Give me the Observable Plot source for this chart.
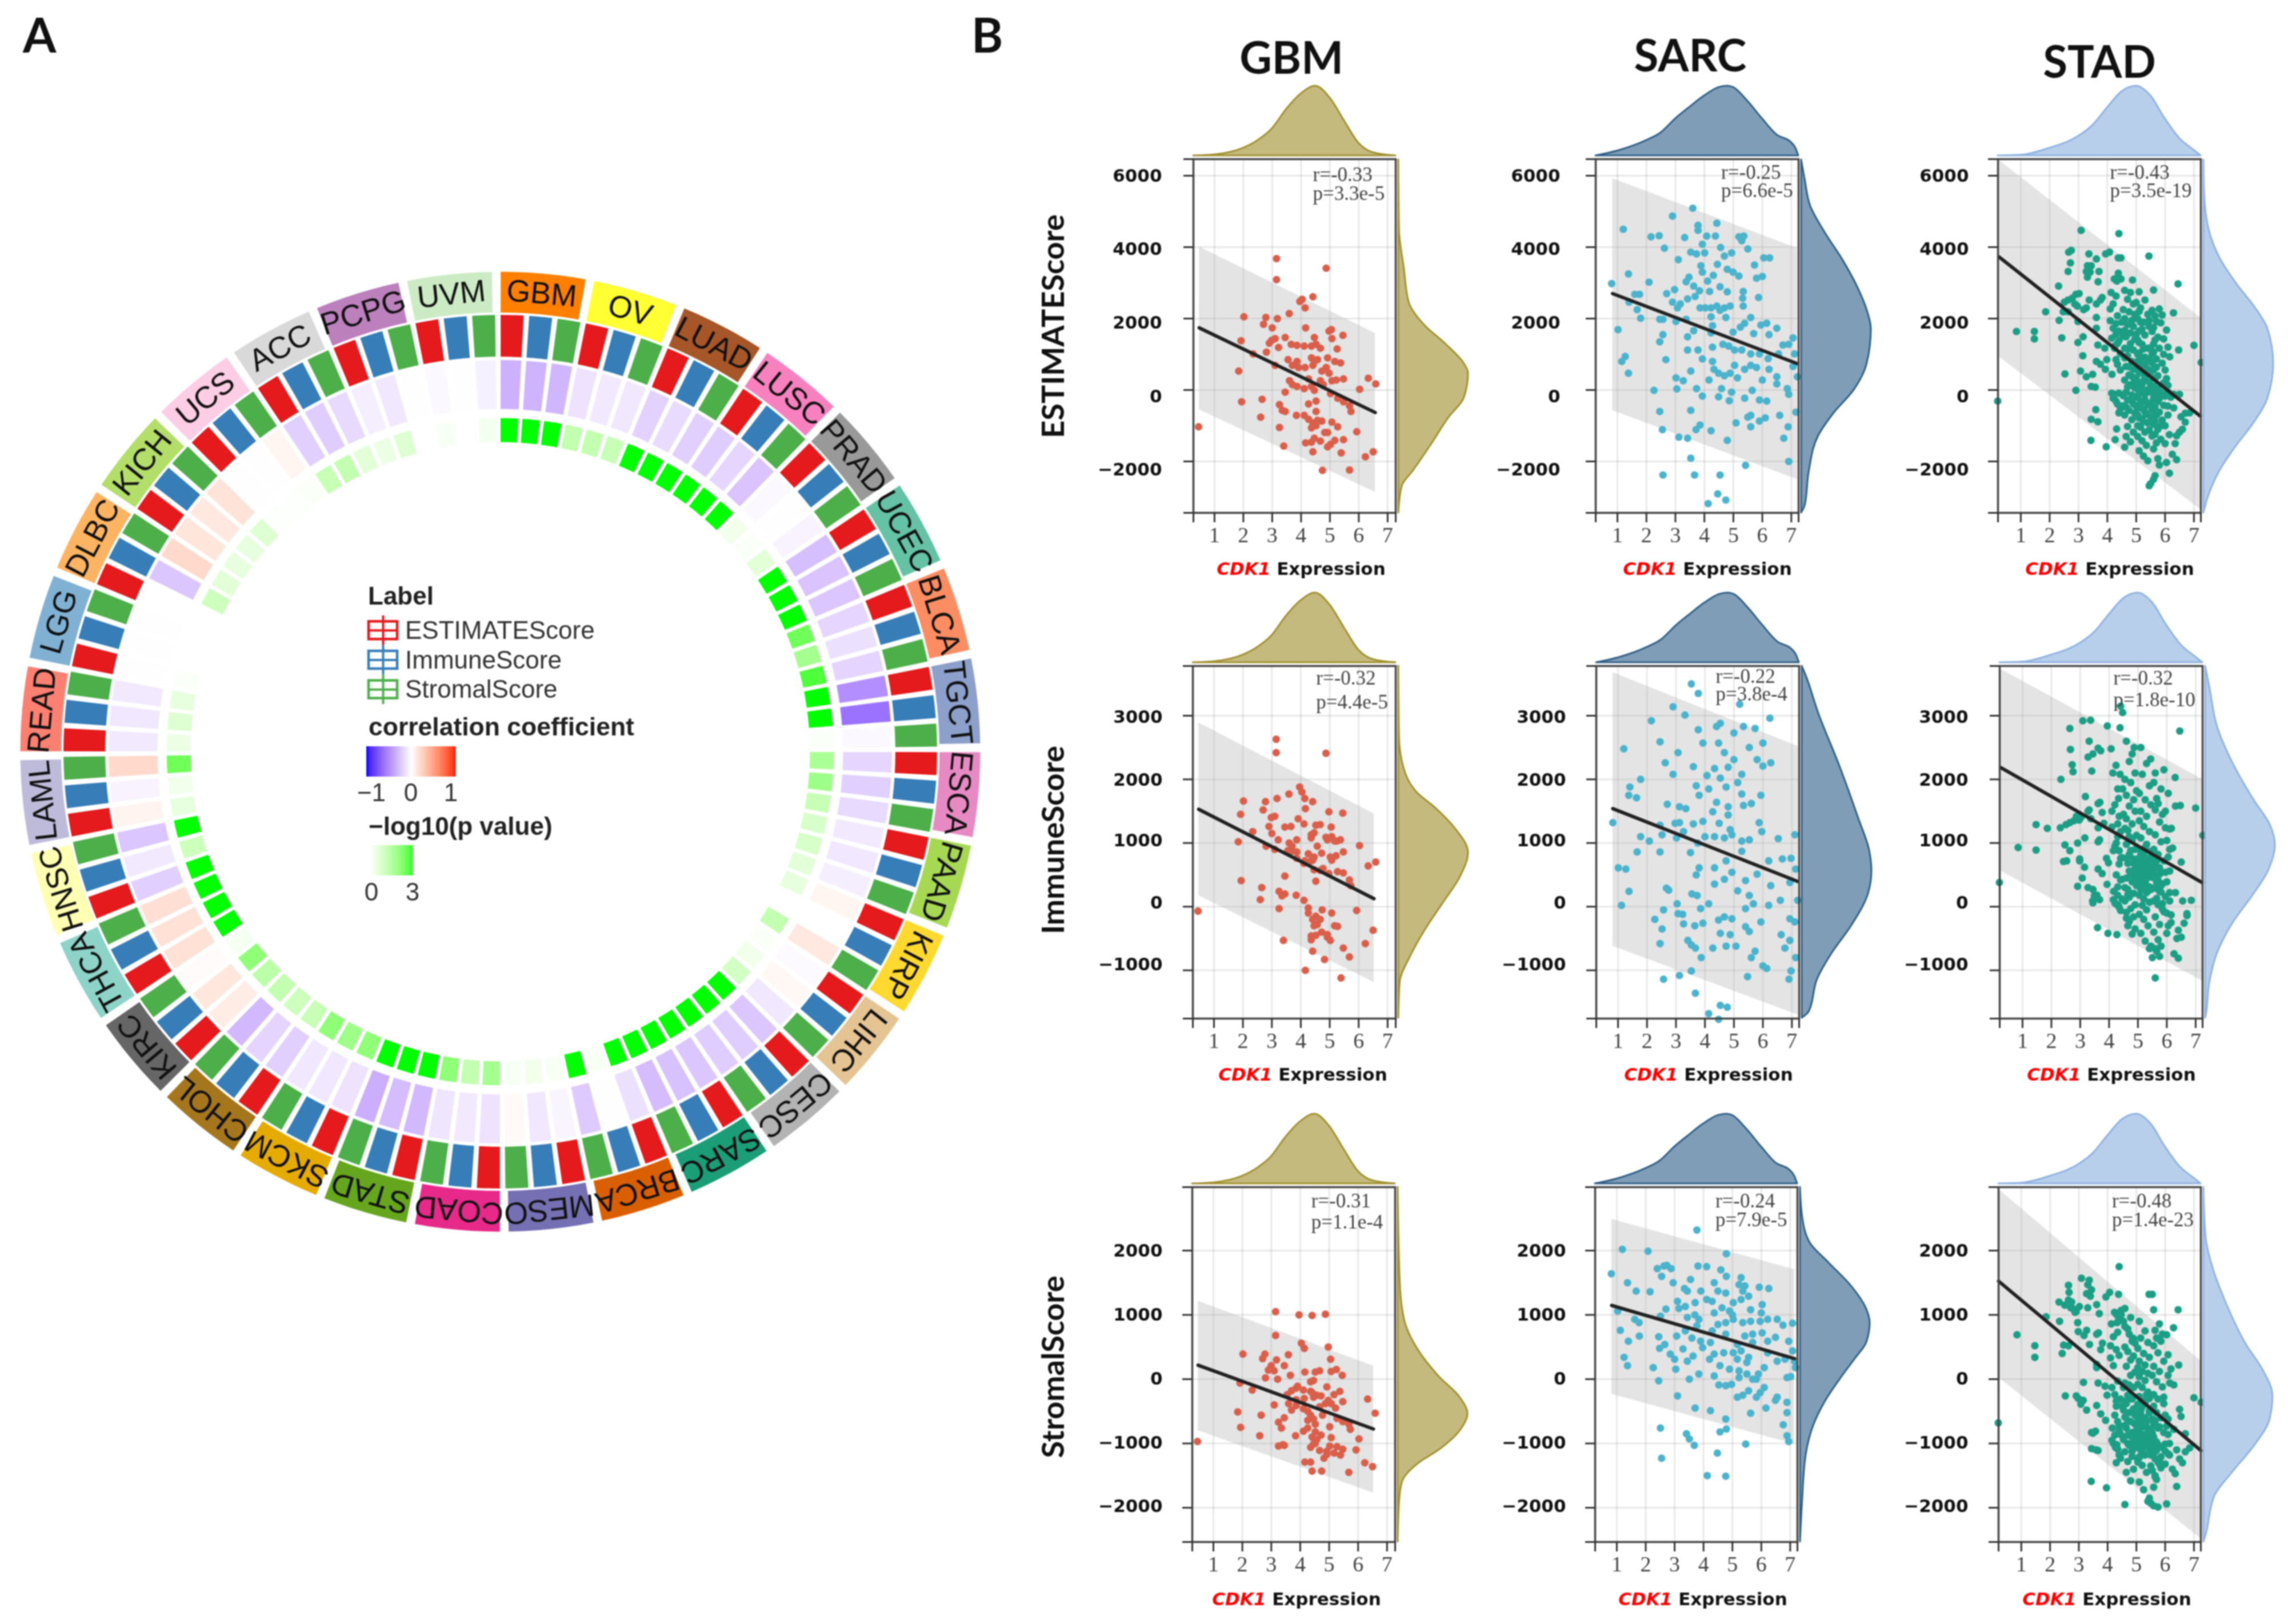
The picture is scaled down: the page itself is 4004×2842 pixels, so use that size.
<!DOCTYPE html>
<html><head><meta charset="utf-8">
<script src="https://cdn.jsdelivr.net/npm/d3@7"></script>
<script src="https://cdn.jsdelivr.net/npm/@observablehq/plot@0.6"></script>
<style>
html,body{margin:0;padding:0;background:#fff}
#page{position:relative;width:4004px;height:2842px;overflow:hidden;background:#fff;filter:blur(1px)}
#page svg{position:absolute;overflow:visible}
.t{position:absolute;white-space:nowrap;line-height:1.2}
</style></head><body><div id="page"></div>
<script>
/* ---------- panel A: circular heatmap ---------- */
const cancers=["GBM","OV","LUAD","LUSC","PRAD","UCEC","BLCA","TGCT","ESCA","PAAD","KIRP","LIHC","CESC","SARC","BRCA","MESO","COAD","STAD","SKCM","CHOL","KIRC","THCA","HNSC","LAML","READ","LGG","DLBC","KICH","UCS","ACC","PCPG","UVM"];
const cancerColors=["#FF7F00","#FFFF33","#A65628","#F781BF","#999999","#66C2A5","#FC8D62","#8DA0CB","#E78AC3","#A6D854","#FFD92F","#E5C494","#B3B3B3","#1B9E77","#D95F02","#7570B3","#E7298A","#66A61E","#E6AB02","#A6761D","#666666","#8DD3C7","#FFFFB3","#BEBADA","#FB8072","#80B1D3","#FDB462","#B3DE69","#FCCDE5","#D9D9D9","#BC80BD","#CCEBC5"];
const scoreLabels=["ESTIMATEScore","ImmuneScore","StromalScore"];
const scoreColors=["#E41A1C","#377EB8","#4DAF4A"];
const corrEstimate=[-.33,-.12,-.19,-.21,-.03,-.27,-.17,-.48,-.17,-.09,.05,-.02,-.24,-.24,-.13,-.04,-.12,-.3,-.12,-.2,.1,.16,-.2,.06,-.09,-.01,0,.14,-.01,-.2,-.07,-.03];
const corrImmune=[-.32,-.09,-.15,-.17,-.01,-.25,-.13,-.6,-.2,-.1,0,.04,-.21,-.26,-.01,-.1,-.09,-.28,-.1,-.18,.13,.16,-.09,-.05,-.1,-.01,-.24,.12,-.01,-.21,-.1,-.005];
const corrStromal=[-.31,-.1,-.2,-.25,-.05,-.24,-.18,-.03,-.16,-.07,.12,-.1,-.21,-.28,-.22,.03,-.11,-.34,-.1,-.3,.02,.17,-.24,.2,-.09,-.01,.2,.15,.05,-.16,-.005,-.06];
const logpEstimate=[3,1.2,3,3,.3,3,2.4,3,1.6,.8,.5,.1,3,3,3,.15,1.7,3,2,1.1,1.3,3,3,.5,.4,.1,.02,.5,.05,1.1,.4,.15];
const logpImmune=[3,1.2,3,3,.1,3,1.7,3,1.8,.8,.02,.3,3,3,.15,.3,1.2,3,1.8,1,2,3,1,.3,.7,.02,1,.5,.05,1.2,.7,.02];
const logpStromal=[3,1.1,3,3,.6,3,2.7,.1,1.1,.6,1.2,.9,3,3,3,.15,2,3,2,1.2,.2,3,3,2.4,.5,.02,.6,.7,.1,.6,.02,.25];

/* ---------- panel B: columns, rows, fits ---------- */
const columnNames=["GBM","SARC","STAD"];
const rowNames=["ESTIMATEScore","ImmuneScore","StromalScore"];
const stats=[["r=-0.33","p=3.3e-5"],["r=-0.25","p=6.6e-5"],["r=-0.43","p=3.5e-19"],["r=-0.32","p=4.4e-5"],["r=-0.22","p=3.8e-4"],["r=-0.32","p=1.8e-10"],["r=-0.31","p=1.1e-4"],["r=-0.24","p=7.9e-5"],["r=-0.48","p=1.4e-23"]];
/* x0,x1, upper0,upper1, fit0,fit1, lower0,lower1 */
const fitBands=[[.47,6.57,4010,1590,1740,-630,-550,-2860],[.83,7.2,5925,3970,2700,740,-570,-2505],[.24,7.22,6440,2030,3730,-730,935,-3340],
[.47,6.53,2890,1460,1530,125,175,-1190],[.82,7.21,3680,2520,1540,395,-620,-1700],[.25,7.22,3730,2005,2185,380,560,-1165],
[.47,6.53,1215,205,217,-775,-800,-1770],[.82,7.15,2490,1705,1147,320,-233,-1010],[.21,7.24,2956,284,1525,-1110,26,-2480]];
/* top densities by expression */
const topGBM=[[.27,0],[1,.015],[2,.11],[2.5,.22],[3,.39],[3.5,.67],[4,.89],[4.5,1],[5,.83],[5.5,.5],[6,.18],[6.5,.045],[7.28,0]];
const topSARC=[[.25,0],[1,.07],[2,.22],[2.5,.33],[3,.53],[3.5,.7],[4,.86],[4.5,.98],[4.8,1],[5,.98],[5.5,.78],[6,.53],[6.5,.3],[7,.19],[7.15,.11],[7.25,0]];
const topSTAD=[[.21,0],[1,.01],[2,.11],[3,.28],[3.5,.44],[4,.69],[4.5,.92],[5,1],[5.5,.86],[6,.53],[6.5,.25],[7,.08],[7.24,0]];
/* right densities by score */
const rightDensities=[
[[6450,0],[4500,.01],[3400,.08],[2450,.15],[1800,.38],[1280,.68],[740,.94],[470,1],[-220,.94],[-770,.72],[-1520,.47],[-2260,.21],[-2690,.05],[-3440,0]],
[[6450,0],[5900,.05],[5150,.13],[4400,.34],[3650,.59],[2900,.8],[2240,.94],[1710,1],[740,.94],[-10,.75],[-660,.46],[-1300,.24],[-2270,.11],[-3240,.05],[-3440,0]],
[[6450,0],[5500,.01],[4450,.08],[3700,.23],[2950,.48],[2300,.74],[1700,.92],[740,1],[-220,.92],[-970,.7],[-1610,.45],[-2260,.23],[-2900,.08],[-3440,0]],
[[3780,0],[2670,.01],[2200,.07],[1800,.26],[1540,.54],[1230,.81],[850,1],[460,.88],[46,.63],[-366,.38],[-780,.17],[-1190,.02],[-1750,0]],
[[3780,0],[3650,.05],[3030,.24],[2210,.54],[1390,.81],[870,.97],[560,1],[200,.95],[-315,.7],[-730,.43],[-1140,.22],[-1650,.1],[-1750,0]],
[[3780,0],[3450,.06],[2830,.17],[2260,.39],[1650,.71],[1280,.93],[970,1],[560,.9],[150,.66],[-260,.39],[-730,.17],[-1190,.06],[-1700,.01],[-1750,0]],
[[2987,0],[1500,.03],[930,.09],[470,.28],[50,.58],[-285,.89],[-540,1],[-800,.89],[-1085,.61],[-1320,.28],[-1600,.06],[-1900,.02],[-2530,0]],
[[2987,0],[2530,.03],[2120,.14],[1810,.41],[1450,.73],[1090,.95],[880,1],[570,.95],[310,.78],[0,.57],[-360,.35],[-720,.19],[-1190,.08],[-1900,.03],[-2530,0]],
[[2987,0],[2220,.03],[1700,.14],[1240,.3],[520,.62],[160,.84],[-260,.99],[-620,.95],[-1030,.73],[-1450,.41],[-1810,.16],[-2430,.03],[-2530,0]]];

/* samples: GBM share one expression axis */
const gbmX=[.45,3.15,3.15,4.87,4.41,3.96,4.04,4.14,3.59,2.02,2.78,3.18,2.7,3,4.16,1.92,4.97,5.05,5.45,5.07,3.45,3.1,2.98,2.9,2.8,2.34,3.22,5.25,3.66,3.86,4.11,4.46,4.52,4.36,4.67,4.92,5.17,5.37,3.55,3.7,3.86,3.91,4.36,4.46,4.57,4.41,3.1,1.84,4.14,4.87,4.72,4.97,5.47,5.22,5.07,6.33,6.59,3.6,3.7,3.86,4.11,4.26,4.36,4.46,4.67,4.77,3.45,5.02,5.27,5.47,5.68,5.73,6.03,1.94,2.65,3.25,3.35,3.45,4.26,4.52,4.52,2.6,3.84,4.11,4.26,4.41,4.57,4.72,4.36,4.52,5.07,5.27,3.25,4.82,4.92,5.93,4.46,4.67,4.16,4.36,5.47,5.17,5.02,4.92,3.4,4.41,5.39,6.23,6.5,4.74,5.68];
const gbmE=[-1030,3680,3090,3410,2610,2480,2540,2300,2140,2050,2030,2000,1840,1740,1740,1380,1650,1690,1530,1440,1470,1440,1390,1310,1060,1010,1190,1150,1280,1250,1230,1470,1280,1230,1170,900,800,760,850,690,800,630,900,800,850,690,690,530,630,630,530,470,310,280,260,330,170,260,150,100,40,310,100,-10,260,150,-60,-100,-230,-330,-440,-600,20,-330,-260,-410,-570,-600,-390,-310,-600,-760,-710,-710,-820,-920,-850,-870,-1060,-1000,-900,-1030,-1050,-1190,-1190,-1170,-1350,-1430,-1480,-1460,-1390,-1410,-1520,-1590,-1570,-1730,-1760,-1870,-1730,-2250,-2240];
const gbmI=[-70,2630,2420,2410,1650,1880,1800,1700,1770,1660,1650,1700,1520,1150,1540,1450,1490,1250,1470,1100,1250,1420,1400,1260,950,1180,1050,1030,1260,1050,1300,1160,1280,1080,1290,1050,1030,1050,880,950,860,1380,1130,780,950,730,900,1020,720,1090,840,520,860,800,730,640,700,1000,870,760,680,830,720,580,570,600,480,780,550,530,420,330,960,410,300,240,170,200,-20,400,-150,110,180,100,-100,-200,-280,-400,-460,-450,-100,-310,-30,-830,-440,-60,-300,-200,-1000,-520,-650,-300,-530,-480,-530,-700,-1120,-580,-370,-50,-790];
const gbmS=[-970,1050,680,1010,990,1000,560,480,380,390,390,300,320,210,110,-60,500,310,60,120,210,130,180,140,20,-170,0,150,60,-140,-170,-20,110,-40,130,-120,-240,-190,-240,-180,-320,-110,-190,-280,-250,-210,-400,-510,-300,-380,-260,-330,-350,-450,-380,-310,-530,-380,-480,-410,-460,-500,-560,-620,-430,-560,-600,-740,-610,-660,-700,-780,-930,-750,-560,-670,-760,-1030,-640,-700,-820,-880,-880,-810,-760,-900,-940,-870,-1290,-1000,-910,-1050,-1040,-1230,-1170,-1100,-1010,-1110,-1290,-1060,-1090,-1150,-1040,-1120,-1020,-1430,-1180,-1300,-1360,-1430,-1450];

/* SARC panels read one by one as [expression, score] */
const sarcE=[[.8,2980],[1.2,4500],[1.38,3250],[1.02,1690],[1.15,800],[1.27,940],[1.38,470],[1.4,2460],[1.6,2680],[1.76,2680],[1.68,2250],[1.8,2010],[2.16,4290],[2.44,4320],[2.09,3020],[2.62,3970],[2.9,4870],[3.32,4270],[3.6,5090],[3.78,4610],[3.78,4470],[4.43,4670],[4.08,4310],[4.38,4310],[3.93,4080],[3.1,3650],[3.53,3860],[3.73,3810],[4.01,3840],[4.56,3990],[4.94,3840],[5.19,4290],[5.36,4310],[5.29,4180],[5.5,3950],[6.05,3700],[6.25,3700],[5.73,3500],[4.69,3750],[3.88,3480],[3.93,3300],[4.45,3520],[4.79,3380],[4.99,3300],[5.19,3190],[5.8,3130],[6,3180],[3.47,3160],[3.37,3030],[4.31,3210],[4.11,3050],[4.54,2890],[2.97,2810],[2.7,2700],[3.63,2910],[3.83,2780],[4.18,2760],[4.79,2750],[5.34,2760],[5.32,2570],[5.87,2590],[3.42,2550],[3.68,2620],[2.9,2460],[3.17,2410],[3.07,2300],[3.85,2300],[4.03,2300],[4.23,2300],[4.43,2350],[4.54,2230],[4.69,2300],[4.89,2350],[5.34,2350],[2.57,1980],[2.46,1980],[3.02,1920],[3.37,1980],[4.23,2050],[4.74,2030],[5.6,2030],[5.39,1870],[5.24,1760],[5.95,1820],[6.15,1870],[6.5,1730],[4.28,1800],[4.23,1600],[3.63,1660],[3.42,1490],[2.57,1550],[2.46,1350],[4.99,1620],[5.7,1580],[6.23,1550],[7.06,1460],[6.91,1280],[6.71,1260],[4.64,1280],[4.84,1230],[5.04,1120],[5.29,1120],[5.6,1010],[5.9,1010],[6.56,1010],[7.11,1010],[3.42,1120],[3.78,1120],[4.28,1200],[2.67,850],[3.93,870],[6.2,880],[4.28,800],[4.33,580],[4.49,470],[4.69,400],[4.89,470],[5.04,690],[3.53,530],[5.39,580],[5.6,690],[5.8,630],[6.23,580],[3.02,340],[3.27,260],[4.16,280],[5.14,340],[6,280],[6.5,370],[6.5,170],[7.06,660],[7.21,370],[2.26,-10],[3.05,30],[3.73,40],[4.59,40],[4.94,-60],[5.65,-10],[5.39,-230],[6.86,40],[6.91,-120],[3.93,-170],[4.49,-190],[4.86,-300],[5.9,-280],[6.15,-310],[2.46,-600],[3.53,-570],[7.16,-620],[5.6,-710],[5.5,-760],[6.6,-710],[6.1,-780],[5.9,-870],[5.09,-920],[5.6,-1030],[6.89,-1030],[3.85,-980],[3.71,-1110],[2.55,-1110],[4.23,-1140],[3.12,-1320],[3.42,-1350],[4.79,-1410],[6.74,-1350],[3.53,-1910],[5.42,-2110],[6.91,-2000],[2.57,-2380],[3.66,-2380],[4.54,-2380],[4.46,-2910],[4.74,-3080],[4.13,-3180]];
const sarcI=[[.82,1320],[1.2,2480],[1.01,610],[1.27,590],[1.38,240],[1.12,20],[1.41,1880],[1.37,1750],[1.64,1710],[1.78,2000],[2.15,2920],[2.45,2590],[2.63,2260],[2.9,3140],[3.07,2420],[3.31,3010],[2.9,2080],[2.7,1610],[3.12,1570],[3.34,1540],[2.45,1280],[2.97,1310],[3.12,1320],[2.52,1130],[3.02,1080],[3.26,1180],[1.78,1100],[2.08,1030],[1.66,860],[2.45,860],[2.67,290],[2.75,260],[3.04,45],[2.57,-50],[3.07,-110],[3.23,-120],[2.27,-200],[2.52,-350],[3.26,-270],[2.45,-580],[3.41,-530],[3.53,-600],[2.57,-1140],[3.12,-1080],[3.53,-1010],[3.53,3500],[3.77,3350],[5.2,3180],[6.24,2960],[4.53,2880],[4.4,2830],[5.33,2830],[5.73,2800],[3.77,2780],[5,2730],[3.93,2570],[4.47,2570],[6,2570],[5.53,2500],[4.67,2420],[5,2310],[5.8,2310],[6.27,2260],[6,2210],[4.33,2170],[4.8,2190],[5.27,2080],[4.07,2060],[4.53,2020],[5.13,1950],[4.73,1880],[4.13,1850],[5.27,1770],[5.93,1750],[5.6,1620],[5.33,1590],[4.4,1640],[4.8,1570],[4.27,1490],[4.8,1440],[3.93,1340],[4.49,1310],[5.87,1320],[5.96,1180],[4.87,1210],[4,1100],[4.33,1100],[4.67,1080],[4.93,1130],[5.27,1030],[5.53,1050],[6.53,1070],[7.1,1130],[5.27,870],[4.73,720],[6.2,720],[6.67,750],[6.97,760],[3.8,610],[4.33,610],[4.93,540],[7.13,590],[5.8,510],[4.67,430],[4.33,355],[5.4,410],[6.27,330],[6.93,380],[5.13,250],[5.53,175],[3.73,175],[6.6,100],[7.2,100],[6.2,20],[4.13,45],[5.4,-30],[5.67,45],[4.67,-160],[3.93,-260],[4.47,-210],[4.93,-190],[5.93,-240],[6.93,-190],[7.1,-240],[5.4,-315],[5.53,-390],[4.53,-420],[4.87,-440],[6.63,-440],[6.93,-530],[4.73,-620],[5.07,-620],[4.27,-650],[6.76,-650],[3.67,-650],[5.73,-700],[5.6,-800],[3.87,-800],[7.13,-800],[6,-930],[6.13,-970],[6.97,-1010],[5.47,-1100],[6.9,-1140],[3.67,-1360],[4.53,-1550],[4.77,-1580],[4.13,-1680],[4.47,-1770],[3.6,2200],[3.7,1900],[3.8,1750],[3.6,1300],[3.75,1000],[3.5,850],[3.7,500],[3.55,200],[3.85,-30],[3.65,-300]];
const sarcS=[[.81,1640],[1.19,2020],[2.08,1990],[1.37,1500],[1.67,1370],[2.15,1360],[2.4,1720],[2.63,1760],[2.55,1600],[2.73,1770],[2.88,1720],[2.95,1500],[3.34,1410],[3.44,1370],[3.1,1210],[3.15,1100],[3.37,1130],[2.7,1090],[2.51,980],[1.03,1060],[1.62,930],[1.77,880],[1.12,760],[1.4,590],[1.78,670],[2.45,660],[2.66,540],[2.48,480],[3.07,670],[3.37,750],[3.44,960],[2.85,390],[3,310],[3.29,470],[1.25,340],[1.37,210],[2.26,180],[3.04,155],[3.44,280],[2.45,-25],[3.51,0],[3.1,-260],[2.51,-760],[3.41,-850],[3.51,-930],[2.55,-1230],[3.77,2320],[4.79,1950],[3.81,1760],[4.11,1750],[4.79,1600],[5.3,1580],[5.23,1470],[5.43,1450],[5.36,1370],[5.56,1290],[5.3,1240],[5.03,1190],[5.93,1430],[6.26,1410],[4.37,1500],[4.5,1370],[4.77,1340],[4.11,1240],[3.91,1370],[4.3,1210],[3.71,1190],[6.03,1160],[6,1030],[5.63,1080],[4.64,1110],[4.9,1060],[4.37,1030],[6.55,930],[6.75,840],[7.08,870],[6.22,930],[5.96,900],[5.63,900],[5.36,880],[5.03,930],[4.77,880],[4.5,850],[3.84,930],[3.77,830],[6.03,720],[5.7,700],[5.43,670],[4.77,700],[4.3,750],[3.9,590],[6.22,590],[6.95,590],[6.49,650],[5.7,570],[5.17,540],[4.24,570],[7.08,440],[6.82,310],[6.55,280],[6.22,410],[5.3,440],[5.03,410],[5.56,340],[5.17,310],[5.5,260],[4.7,410],[4.37,390],[3.97,490],[3.64,360],[4.21,310],[4.57,210],[7.15,280],[7.18,180],[4.9,155],[5.23,130],[5.5,80],[5.9,80],[6.1,180],[6.89,25],[7.02,40],[3.84,80],[4.37,50],[5.7,0],[5.83,0],[5.23,25],[4.97,-80],[4.77,-100],[4.53,-90],[6.1,-130],[5.96,-210],[5.56,-180],[5.17,-280],[5.36,-250],[6.55,-280],[6.49,-330],[5.83,-280],[6.89,-360],[6.89,-520],[6.16,-450],[5.63,-530],[3.71,-450],[4.24,-490],[6.76,-710],[4.77,-620],[4.57,-820],[4.79,-775],[6.89,-880],[6.95,-970],[5.46,-1010],[3.68,-1030],[4.48,-1150],[4.13,-1500],[4.77,-1510],[3.6,640],[3.7,1000],[3.55,1550],[4.6,1700],[5,1000]];

/* STAD samples: [expression, ESTIMATE, Immune, Stromal] */
const stadSamples=[[.2,-310,380,-680],[.85,1640,930,690],[1.47,1640,1290,520],[1.47,1430,890,340],[1.86,2190,1230,970],[2.33,1950,2000,900],[2.31,2910,1240,1200],[2.47,2190,970,530],[2.42,1460,710,400],[2.53,450,720,-260],[2.64,3320,2800,1460],[2.66,3860,2470,1350],[2.75,3910,2120,1200],[2.72,3560,2230,1110],[2.51,2460,1290,1150],[2.64,2520,1320,1230],[2.78,2570,1350,1100],[2.91,2680,1000,1050],[3.02,2700,1400,1130],[2.87,2410,1420,1040],[2.96,2350,1360,880],[2.64,2190,880,520],[2.98,1920,750,740],[2.98,1330,720,-300],[3.16,1490,1080,-50],[3.15,960,620,-330],[3.07,530,450,-390],[2.91,-10,320,-260],[3.09,4470,2920,1570],[3.36,3810,2930,1540],[3.31,3480,2600,1470],[3.44,3480,2400,1390],[3.27,3320,2350,1330],[3.4,3300,2130,1290],[3.31,3160,1520,1110],[3.62,3670,2490,1160],[3.71,3320,2450,1020],[3.68,3030,1640,720],[3.18,2250,1730,680],[3.27,2300,1500,760],[3.37,2520,1380,540],[3.62,2410,1620,700],[3.76,2520,1480,460],[3.82,2590,1310,560],[3.62,2030,1240,230],[3.62,1730,1020,180],[3.67,1260,1050,-60],[3.91,1170,760,-110],[3.98,850,690,-250],[3.62,800,590,-410],[3.76,720,520,-540],[3.93,580,350,-640],[4.16,440,240,-760],[3.49,440,170,-840],[3.27,370,300,-480],[3.44,100,270,-830],[3.58,80,180,-810],[3.6,-550,-330,-1100],[3.44,-820,60,-1080],[3.67,-890,110,-1110],[3.43,-1410,90,-1590],[3.96,-1590,-420,-1690],[4.27,-1390,-440,-1060],[4.32,-1090,20,-1020],[3.94,3810,2840,1280],[4.07,3860,2480,1350],[4.38,3700,2810,1320],[4.47,3700,3050,1070],[4.4,4380,3150,1750],[4.24,3110,2220,1040],[4.38,3270,2080,960],[4.47,3110,1850,1000],[4.33,3050,1700,880],[4.87,3080,2500,640],[5.44,3750,2320,1320],[6.45,2970,2760,1080],[6.29,2160,2030,800],[6.47,1120,1590,220],[7,1250,1550,-290],[7.25,770,1120,-360],[6.16,930,1230,-60],
[4.13,2730,2100,860],[4.3,2630,1850,1010],[4.2,2410,1600,660],[4.1,2270,1500,520],[4.35,2080,1420,730],[4.1,1940,1250,330],[4.3,1860,1100,460],[4.2,1730,950,210],[4.4,1650,760,370],[4.15,1450,880,-130],[4.35,1300,670,-30],[4.25,1170,500,-240],[4.45,1020,430,-310],[4.3,850,310,-420],[4.15,-90,110,-950],[4.2,-230,60,-1000],[4.35,-390,-10,-1090],[4.25,-120,40,-870],[4.4,-640,-60,-1180],
[4.6,2790,2600,1100],[4.8,2730,2400,960],[4.7,2540,2280,780],[4.9,2410,2100,630],[4.55,2250,2000,900],[4.75,2190,1950,700],[4.95,2120,1820,560],[4.6,2000,1750,820],[4.85,1950,1680,590],[4.7,1830,1580,430],[4.9,1780,1500,360],[4.6,1670,1380,500],[4.8,1600,1300,300],[4.65,1490,1200,200],[4.95,1420,1120,110],[4.8,1300,1040,60],[4.6,1170,980,-60],[4.9,1120,900,-130],[4.7,960,820,-250],[4.85,800,750,-310],[4.65,660,680,-380],[4.9,580,600,-460],[4.75,420,520,-520],[4.6,280,450,-590],[4.8,150,390,-660],[4.95,60,330,-700],[4.65,-60,270,-760],[4.85,-140,210,-830],[4.7,-280,150,-870],[4.55,-440,90,-940],[4.9,-390,30,-980],[4.75,-570,-30,-1030],[4.6,-700,-90,-1130],[4.85,-830,-160,-1200],[4.7,-1020,-230,-1280],[4.9,-1180,-350,-1400],[4.65,-1300,-300,-1450],[4.8,-1450,-430,-1580],[4.6,-1600,-180,-1950],
[5.1,2750,2500,900],[5.3,2520,2250,750],[5.15,2300,2080,640],[5.4,2120,1900,570],[5.05,2000,1780,480],[5.25,1900,1680,400],[5.45,1780,1600,340],[5.1,1650,1500,280],[5.3,1540,1420,220],[5.05,1400,1350,180],[5.2,1280,1260,120],[5.4,1170,1180,90],[5.1,1040,1080,40],[5.3,920,980,-20],[5.05,800,900,-80],[5.2,690,820,-130],[5.4,580,760,-200],[5.1,470,700,-270],[5.3,340,650,-330],[5.05,210,600,-390],[5.2,120,560,-430],[5.45,30,520,-490],[5.1,-40,480,-540],[5.3,-130,440,-600],[5.05,-210,400,-650],[5.2,-320,360,-700],[5.4,-420,310,-760],[5.1,-500,270,-810],[5.3,-610,220,-860],[5.05,-700,180,-920],[5.2,-810,120,-980],[5.4,-920,70,-1040],[5.15,-1040,20,-1100],[5.3,-1180,-50,-1180],[5.05,-1300,-120,-1260],[5.2,-1420,-200,-1340],[5.35,-1550,-300,-1450],[5.1,-1700,-420,-1600],[5.25,-1850,-540,-1720],[5.4,-1980,-660,-1900],
[5.6,2800,2100,1080],[5.55,2230,1950,1320],[5.8,2270,1850,860],[5.65,2080,1700,760],[5.9,2100,2150,700],[5.7,1920,1620,640],[5.6,1750,1520,520],[5.85,1880,1450,590],[5.75,1480,1330,410],[5.95,1430,1240,280],[5.6,1290,1130,200],[5.8,1170,1020,120],[5.55,1020,900,60],[5.7,870,820,-40],[5.9,750,720,-120],[5.6,570,680,-240],[5.75,400,610,-310],[5.95,200,540,-380],[5.55,120,470,-450],[5.7,20,410,-520],[5.85,-60,360,-600],[5.6,-230,290,-680],[5.75,-320,240,-760],[5.95,-430,160,-830],[5.55,-560,90,-910],[5.7,-700,30,-980],[5.9,-840,-80,-1060],[5.6,-960,-160,-1150],[5.75,-1100,-280,-1290],[5.55,-1290,-400,-1420],[5.7,-1480,-520,-1560],[5.6,-1650,-660,-1680],[5.75,-1920,-780,-1990],[5.5,-2620,-800,-1930],[5.6,-2500,-1120,-1970],[5.65,-2400,-700,-1500],[5.45,-2680,-620,-1850],[5.8,-2100,-620,-1320],
[6.05,1680,1780,690],[6.1,1200,900,380],[6.2,-200,920,160],[6.1,-60,1220,60],[6.3,-120,1580,-90],[6.5,-120,700,-470],[6.1,-450,220,-620],[6.3,-500,220,-780],[6.55,-750,90,-580],[6.7,-650,-140,-850],[6.85,-640,100,-1070],[6.7,-900,-110,-1130],[6.4,-1280,-370,-1100],[6.5,-1180,-480,-1240],[6.6,-1100,-260,-1300],[6.35,-1500,-500,-1470],[6.25,-1800,-740,-1400],[6.4,-1950,-810,-1670],[6.15,-2330,-130,-1180],[6.05,-2030,-300,-1940],
[4.5,1900,1450,-420],[4.55,1500,1230,-130],[4.7,1150,1100,-640],[4.6,900,760,-720],[4.75,650,880,-90],[4.85,380,680,-1120],[4.95,240,430,-560],[4.7,90,560,-1000],[4.55,-160,300,-480],[4.85,-300,470,-900],[4.65,-480,190,-340],[4.95,-640,640,-1060],
[5,2450,700,-820],[5.1,2200,510,-740],[5.15,1900,860,-1000],[5.2,1700,620,-660],[5,1560,750,-950],[5.1,1330,560,-1220],[5.25,1150,930,-360],[5.05,1000,350,-600],[5.15,880,690,-470],[5.3,720,480,-1040],[5.1,610,810,-880],[5.2,500,320,-1170],[5.35,430,560,-240],[5,330,640,-700],[5.25,250,440,-930],[5.15,160,750,-560],[5,60,530,-800],[5.35,-30,290,-660],[5.2,-80,610,-1130],[5.05,-170,410,-1290],[5.3,-270,700,-380],[5.15,-370,340,-500],[5,-450,490,-1060],[5.25,-540,570,-740],[5.35,-680,250,-920],[5.1,-780,660,-1210],[5.25,-880,380,-1000],[5.05,-1000,460,-450],
[5.45,1950,870,-300],[5.55,1640,590,-840],[5.65,1400,720,-700],[5.5,1180,460,-1010],[5.6,1060,640,-420],[5.45,870,780,-950],[5.55,760,520,-620],[5.7,640,370,-1110],[5.5,500,700,-780],[5.65,330,440,-1240],[5.45,220,590,-520],[5.6,110,300,-900],[5.75,40,510,-1020],[5.5,-60,660,-1180],[5.65,-160,400,-640],[5.8,-240,230,-1280],[5.5,-360,560,-860],[5.65,-480,130,-1080],[5.8,-620,330,-740],[5.5,-760,480,-1350],[5.65,-870,620,-960],[5.85,-1000,50,-1210],[5.45,-1120,270,-1090],[5.65,-1240,380,-1520],[5.85,-1380,-40,-1380],
[4.3,1560,1300,-340],[4.4,1380,1180,-720],[4.25,1230,1000,-560],[4.35,720,880,-660],[4.45,560,770,-860],[4.4,-90,420,-800],[4.3,-310,180,-1300],[4.45,-520,120,-1230],
[5.95,1000,1500,-280],[6,560,1040,-560],[6.05,320,780,-730],[6.1,130,560,-860],[6,-170,390,-1010],[6.1,-700,90,-1160],[6,-1000,-100,-1320],[6.15,-1250,-250,-1000],[6,-1500,-420,-1120]];

const gbmPoints=[gbmE,gbmI,gbmS].map(ys=>gbmX.map((x,i)=>[x,ys[i]]));
const stadPoints=[1,2,3].map(k=>stadSamples.map(s=>[s[0],s[k]]));
const points=[[gbmPoints[0],sarcE,stadPoints[0]],[gbmPoints[1],sarcI,stadPoints[1]],[gbmPoints[2],sarcS,stadPoints[2]]];

/* ---------- layout ---------- */
const page=document.getElementById("page");
const sans="Liberation Sans",serif="Liberation Serif",dv="DejaVu Sans",cal="Lato";
function place(el,left,top){el.style.position="absolute";el.style.left=left+"px";el.style.top=top+"px";page.appendChild(el);return el;}
function text(html,x,y,css,anchor="left"){const d=document.createElement("div");d.className="t";d.innerHTML=html;d.style.cssText+=css;d.style.lineHeight="1.2";
  d.style.left=x+"px";d.style.top=y+"px";d.style.transform=(anchor==="center"?"translate(-50%,-50%)":"translateY(-50%)");page.appendChild(d);return d;}

/* ---------- ring ---------- */
const corrScale=Plot.scale({color:{type:"linear",domain:[-1,0,1],range:["#0000ff","#ffffff","#ff0000"],interpolate:"lab"}});
const logpScale=Plot.scale({color:{type:"linear",domain:[0,3],range:["#ffffff","#00ff00"],interpolate:"lab",clamp:true}});
const deg=Math.PI/180;
function sector(id,a0,a1,r0,r1,fill){const n=6,p=[];
  for(let i=0;i<=n;i++){const a=(a0+(a1-a0)*i/n)*deg;p.push({id,fill,x:r1*Math.sin(a),y:r1*Math.cos(a)});}
  for(let i=n;i>=0;i--){const a=(a0+(a1-a0)*i/n)*deg;p.push({id,fill,x:r0*Math.sin(a),y:r0*Math.cos(a)});}
  return p;}
const cellStep=360/96,cellW=3.03;
const ring=[];
const corr=[corrEstimate,corrImmune,corrStromal],logp=[logpEstimate,logpImmune,logpStromal];
cancers.forEach((c,i)=>{
  ring.push(...sector("L"+i,i*3*cellStep+.05,i*3*cellStep+10.25,.915,1,cancerColors[i]));
  for(let k=0;k<3;k++){const a=(i*3+k)*cellStep+.05;
    ring.push(...sector(`T${i}${k}`,a,a+cellW,.823,.91,scoreColors[k]));
    ring.push(...sector(`C${i}${k}`,a,a+cellW,.714,.816,corrScale.apply(corr[k][i])));
    ring.push(...sector(`P${i}${k}`,a,a+cellW,.645,.695,logpScale.apply(logp[k][i])));
  }
});
const ringExt=875/840;
place(Plot.plot({width:1750,height:1750,margin:0,x:{domain:[-ringExt,ringExt],axis:null},y:{domain:[-ringExt,ringExt],axis:null},color:{type:"identity"},style:{background:"none"},
 marks:[
  Plot.line(ring,{x:"x",y:"y",z:"id",fill:"fill",stroke:null,curve:"linear"}),
  Plot.text(cancers,{x:(d,i)=>.958*Math.sin((i*3*cellStep+5.15)*deg),y:(d,i)=>.958*Math.cos((i*3*cellStep+5.15)*deg),text:d=>d,rotate:(d,i)=>i*3*cellStep+5.15,fontSize:54,fontFamily:sans,fill:"#111"})
 ]}),0,1315-875);

/* ---------- ring legend ---------- */
text("Label",644,1043,`font:bold 44px ${sans};color:#222`);
scoreLabels.forEach((s,i)=>text(s,709,1103+i*51.5,`font:44px ${sans};color:#333`));
text("correlation coefficient",645,1272,`font:bold 44.5px ${sans};color:#222`);
text("\u2212log10(p value)",645,1446,`font:bold 44px ${sans};color:#222`);
[["\u22121",650],["0",719],["1",789]].forEach(([t,x])=>text(t,x,1387,`font:44px ${sans};color:#333`,"center"));
[["0",650],["3",722]].forEach(([t,x])=>text(t,x,1561,`font:44px ${sans};color:#333`,"center"));
const keyRows=[0,1,2];
place(Plot.plot({width:60,height:155,margin:0,x:{domain:[-1.2,1.2],axis:null},y:{domain:[2.5,-.5],axis:null},color:{type:"identity"},style:{background:"none"},marks:[
  Plot.rect(keyRows,{x1:-1,x2:1,y1:d=>d-.3,y2:d=>d+.3,fill:"#fff",stroke:d=>scoreColors[d],strokeWidth:4.5}),
  Plot.ruleY(keyRows,{y:d=>d,x1:-1,x2:1,stroke:d=>scoreColors[d],strokeWidth:4}),
  Plot.ruleX(keyRows,{x:0,y1:d=>d-.5,y2:d=>d+.5,stroke:d=>scoreColors[d],strokeWidth:4})
]}),640,1077);
const corrTicks=d3.range(-1,1,.02),logpTicks=d3.range(0,3,.05);
place(Plot.plot({width:156,height:53,margin:0,x:{domain:[-1,1],axis:null},y:{domain:[0,1],axis:null},color:{type:"linear",domain:[-1,0,1],range:["#0000ff","#ffffff","#ff0000"],interpolate:"lab"},style:{background:"none"},marks:[
  Plot.rect(corrTicks,{x1:d=>d,x2:d=>d+.025,y1:0,y2:1,fill:d=>d})
]}),641,1306);
place(Plot.plot({width:75,height:53,margin:0,x:{domain:[0,3],axis:null},y:{domain:[0,1],axis:null},color:{type:"linear",domain:[0,3],range:["#ffffff","#00ff00"],interpolate:"lab"},style:{background:"none"},marks:[
  Plot.rect(logpTicks,{x1:d=>d,x2:d=>d+.06,y1:0,y2:1,fill:d=>d})
]}),647,1479);

text("A",40,60,`font:bold 84px ${cal};color:#111`);
text("B",1700,60,`font:bold 84px ${cal};color:#111`);

/* ---------- panel B ---------- */
const rowsCfg=[
 {T:278,B:897,dom:[-3440,6464],ticks:[-2000,0,2000,4000,6000],dy:[15,12,8,4,1],titleY:571,xlabY:996},
 {T:1165,B:1782,dom:[-1758,3781],ticks:[-1000,0,1000,2000,3000],dy:[-10,-7,-4,1,3],titleY:1470,xlabY:1881},
 {T:2077,B:2698,dom:[-2533,2987],ticks:[-2000,-1000,0,1000,2000],dy:[-2,-1,0,0,1],titleY:2392,xlabY:2799}];
const colFrames=[[[2088,2442],[2792,3147],[3496,3851]],[[2087,2442],[2793,3148],[3499,3854]],[[2086,2441],[2791,3145],[3497,3851]]];
const xDoms=[[.27,7.28],[.25,7.25],[.21,7.24]];
const dotColors=["#D95F4B","#4CB3CC","#1C9E85"];
const densFill=["#C5BA7E","#7F9DB6","#B8CFEC"],densStroke=["#A0902F","#2F5F86","#8FB2E0"];
const tops=[topGBM,topSARC,topSTAD];
const statPos=[[[4.41,6030,5500],[4.58,6090,5580],[4.09,6090,5580]],[[4.53,3593,3216],[4.37,3613,3335],[4.15,3593,3253]],[[4.38,2775,2440],[4.41,2775,2480],[4.15,2775,2480]]];
const labelGap=[[55,62,51],[53,53,55],[52,51,53]];
const xlabX=[[2277,2988,3692],[2280,2990,3695],[2269,2980,3687]];
const titleCfg=[[2260,100],[2958,96],[3674,107]];

columnNames.forEach((n,c)=>text(n,titleCfg[c][0],titleCfg[c][1],`font:bold 78px ${cal};color:#111`,"center"));
rowsCfg.forEach((rc,r)=>{
 const t=text(rowNames[r],1842,rc.titleY,`font:bold 54px ${cal};color:#111`,"center");
 t.style.transform="translate(-50%,-50%) rotate(-90deg)";
 columnNames.forEach((n,c)=>{
  const [L,R]=colFrames[r][c];const dom=xDoms[c];const id=r*3+c;
  const fw=R-L,fh=rc.B-rc.T;
  const band=fitBands[id];
  const bandRows=[{x:band[0],u:band[2],f:band[4],l:band[6]},{x:band[1],u:band[3],f:band[5],l:band[7]}];
  const ml=130,mr=12,mt=10,mb=70;
  const xt=[dom[0],1,2,3,4,5,6,7,dom[1]];
  const yt=[rc.dom[0],...rc.ticks,rc.dom[1]];
  const sp=statPos[r][c];
  place(Plot.plot({width:fw+ml+mr,height:fh+mt+mb,marginLeft:ml,marginRight:mr,marginTop:mt,marginBottom:mb,
    x:{domain:dom,axis:null},y:{domain:rc.dom,axis:null},style:{background:"none",overflow:"visible"},
    marks:[
     Plot.gridX([1,2,3,4,5,6,7],{stroke:"#000",strokeOpacity:.09,strokeWidth:3}),
     Plot.gridY(rc.ticks,{stroke:"#000",strokeOpacity:.09,strokeWidth:3}),
     Plot.areaY(bandRows,{x:"x",y1:"l",y2:"u",fill:"#b4b4b4",fillOpacity:.36}),
     Plot.dot(points[r][c],{x:d=>d[0],y:d=>d[1],r:6.6,fill:dotColors[c],stroke:null}),
     Plot.line(bandRows,{x:"x",y:"f",stroke:"#222",strokeWidth:6}),
     Plot.frame({stroke:"#444",strokeWidth:3.5}),
     Plot.axisX(xt,{tickSize:17,tickPadding:8,stroke:"#333",strokeWidth:3,fontSize:38,fontFamily:serif,fill:"#444",tickFormat:d=>Number.isInteger(d)?String(d):"",label:null}),
     Plot.axisY(yt,{tickSize:17,stroke:"#333",strokeWidth:3,tickFormat:()=>"",label:null}),
     ...rc.ticks.map((tk,i)=>Plot.text([tk],{y:d=>d,frameAnchor:"left",dx:-labelGap[r][c],dy:rc.dy[i],textAnchor:"end",text:d=>String(d).replace("-","\u2212"),fontSize:31,fontWeight:"bold",fontFamily:dv,fill:"#111"})),
     Plot.text([stats[id][0]],{x:sp[0],y:sp[1],text:d=>d,textAnchor:"start",fontSize:35,fontFamily:serif,fill:"#444"}),
     Plot.text([stats[id][1]],{x:sp[0],y:sp[2],text:d=>d,textAnchor:"start",fontSize:35,fontFamily:serif,fill:"#444"})
    ]}),L-ml,rc.T-mt);
  /* top density */
  place(Plot.plot({width:fw,height:122,margin:0,x:{domain:dom,axis:null},y:{domain:[0,1],axis:null},style:{background:"none",overflow:"visible"},
    marks:[Plot.areaY(tops[c],{x:d=>d[0],y:d=>d[1],fill:densFill[c],stroke:densStroke[c],strokeWidth:3,curve:"monotone-x"})]}),L,rc.T-128);
  /* right density */
  place(Plot.plot({width:122,height:fh,margin:0,x:{domain:[0,1],axis:null},y:{domain:rc.dom,axis:null},style:{background:"none",overflow:"visible"},
    marks:[Plot.areaX(rightDensities[id],{y:d=>d[0],x:d=>d[1],fill:densFill[c],stroke:densStroke[c],strokeWidth:3,curve:"monotone-y"})]}),R+5,rc.T);
  text(`<span style="color:#f00;font-style:italic">CDK1</span> Expression`,xlabX[r][c],rc.xlabY,`font:bold 31px ${dv};color:#111`,"center");
 });
});
</script></body></html>
